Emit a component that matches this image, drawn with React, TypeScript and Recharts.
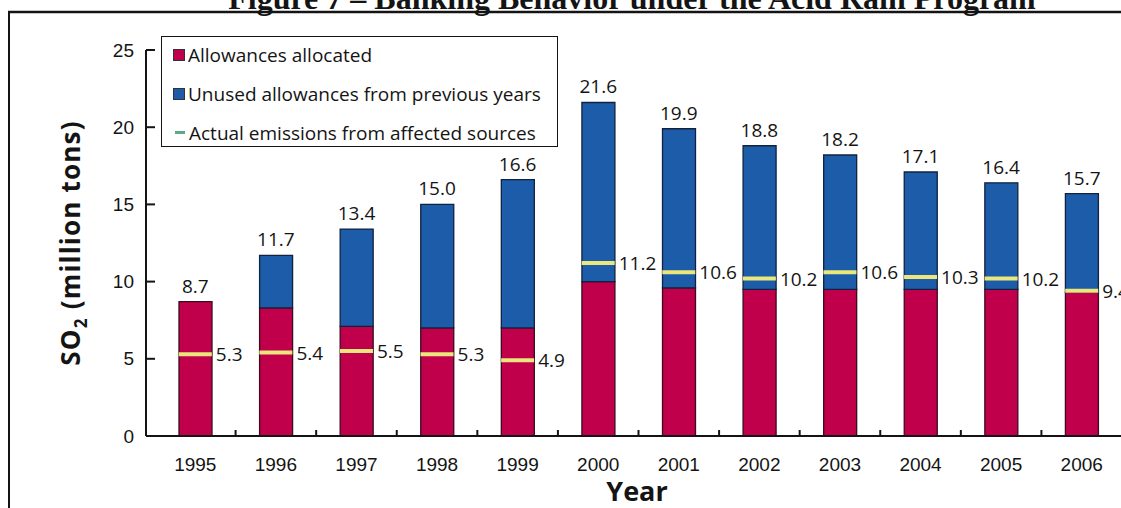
import React from "react";
import { ComposedChart, Bar, Scatter, XAxis, YAxis, Legend } from "recharts";

// SO2 allowance bank, million tons
const years = ["1995", "1996", "1997", "1998", "1999", "2000", "2001", "2002", "2003", "2004", "2005", "2006"];
const totalAllowances = [8.7, 11.7, 13.4, 15.0, 16.6, 21.6, 19.9, 18.8, 18.2, 17.1, 16.4, 15.7];
const allocatedAllowances = [8.7, 8.3, 7.1, 7.0, 7.0, 10.0, 9.6, 9.5, 9.5, 9.5, 9.5, 9.3];
const actualEmissions = [5.3, 5.4, 5.5, 5.3, 4.9, 11.2, 10.6, 10.2, 10.6, 10.3, 10.2, 9.4];
const yTicks = [0, 5, 10, 15, 20, 25];

const RED = "#c0004b";
const BLUE = "#1d5ca8";
const EMISSION = "#ebe77c";
const LEGEND_DASH = "#5daa8b";
const INK = "#141414";

const CHART_W = 1200;
const CHART_H = 508;
const Y_AXIS_W = 146;
const RIGHT_MARGIN = 78;
const X_PAD_LEFT = 9;
const BAR_W = 33;
const BAND = (CHART_W - Y_AXIS_W - RIGHT_MARGIN - X_PAD_LEFT) / years.length;

const valueFont = "'Open Sans', 'Noto Sans', sans-serif";
const tickFont = "'Liberation Sans', Arial, sans-serif";

const data = years.map((year, i) => ({
  year,
  allocated: allocatedAllowances[i],
  unused: +(totalAllowances[i] - allocatedAllowances[i]).toFixed(1),
  total: totalAllowances[i],
  emissions: actualEmissions[i],
}));

const legendItems = [
  { label: "Allowances allocated", color: RED, kind: "square" },
  { label: "Unused allowances from previous years", color: BLUE, kind: "square" },
  { label: "Actual emissions from affected sources", color: LEGEND_DASH, kind: "dash" },
];

const YTick = (props: any) => {
  const { x, y, payload } = props;
  const axisX = x + 12;
  return (
    <g>
      <line x1={axisX} x2={axisX + 9} y1={y} y2={y} stroke={INK} strokeWidth={2} />
      <text x={x} y={y} textAnchor="end" dominantBaseline="central" fontFamily={tickFont} fontSize={19} fill={INK}>
        {payload.value}
      </text>
    </g>
  );
};

const XTick = (props: any) => {
  const { x, y, payload } = props;
  const edge = x + BAND / 2;
  return (
    <g>
      <line x1={edge} x2={edge} y1={y} y2={y - 6} stroke={INK} strokeWidth={2} />
      <text x={x} y={y + 35} textAnchor="middle" fontFamily={tickFont} fontSize={19} fill={INK}>
        {payload.value}
      </text>
    </g>
  );
};

// yellow bar across the column at the emissions level, value to the right
const EmissionMark = (props: any) => {
  const { cx, cy, payload } = props;
  return (
    <g>
      <line x1={cx - BAR_W / 2} x2={cx + BAR_W / 2} y1={cy} y2={cy} stroke={EMISSION} strokeWidth={4} />
      <text x={cx + BAR_W / 2 + 4} y={cy} dominantBaseline="central" fontFamily={valueFont} fontSize={19} fill={INK}>
        {payload.emissions.toFixed(1)}
      </text>
    </g>
  );
};

const TotalLabel = (props: any) => {
  const { cx, cy, payload } = props;
  return (
    <text x={cx} y={cy - 9} textAnchor="middle" fontFamily={valueFont} fontSize={19} fill={INK}>
      {payload.total.toFixed(1)}
    </text>
  );
};

const YTitle = (props: any) => {
  const { viewBox } = props;
  const cy = viewBox.y + viewBox.height / 2;
  return (
    <text
      transform={`translate(80, ${cy}) rotate(-90)`}
      textAnchor="middle"
      fontFamily={valueFont}
      fontWeight={700}
      fontSize={26}
      letterSpacing={1.2}
      fill={INK}
    >
      SO<tspan dy={7} fontSize={17}>2</tspan>
      <tspan dy={-7}>{"  (million tons)"}</tspan>
    </text>
  );
};

const XTitle = (props: any) => {
  const { viewBox } = props;
  return (
    <text
      x={viewBox.x + viewBox.width / 2 + 3}
      y={viewBox.y + 65}
      textAnchor="middle"
      fontFamily={valueFont}
      fontWeight={700}
      fontSize={27}
      fill={INK}
    >
      Year
    </text>
  );
};

const LegendBox = () => (
  <div
    style={{
      position: "relative",
      width: 397,
      height: 111,
      boxSizing: "border-box",
      border: `1.5px solid ${INK}`,
      background: "#fff",
      fontFamily: valueFont,
      fontSize: 19,
      color: INK,
    }}
  >
    {legendItems.map((item, i) => (
      <div
        key={item.label}
        style={{ position: "absolute", left: 11, top: i * 39 - 2, height: 39, display: "flex", alignItems: "center", whiteSpace: "nowrap" }}
      >
        {item.kind === "dash" ? (
          <span style={{ display: "inline-block", width: 10, height: 3, background: item.color, margin: "0 4px 0 2px" }} />
        ) : (
          <span
            style={{
              display: "inline-block",
              width: 10,
              height: 10,
              background: item.color,
              border: "1px solid #333",
              marginRight: 3,
            }}
          />
        )}
        <span>{item.label}</span>
      </div>
    ))}
  </div>
);

export default function App() {
  return (
    <div style={{ position: "fixed", left: 0, top: 0, width: 1121, height: 508, overflow: "hidden", background: "#fff" }}>
      <div style={{ position: "absolute", left: 0, top: 0 }}>
        <ComposedChart
          width={CHART_W}
          height={CHART_H}
          data={data}
          margin={{ top: 50, right: RIGHT_MARGIN, bottom: 0, left: 0 }}
        >
          <XAxis
            dataKey="year"
            height={72}
            padding={{ left: X_PAD_LEFT, right: 0 }}
            axisLine={{ stroke: INK, strokeWidth: 2 }}
            tickLine={false}
            tickSize={0}
            tickMargin={0}
            tick={<XTick />}
            interval={0}
            label={{ content: <XTitle /> }}
          />
          <YAxis
            width={Y_AXIS_W}
            domain={[0, 25]}
            ticks={yTicks}
            interval={0}
            axisLine={{ stroke: INK, strokeWidth: 2 }}
            tickLine={false}
            tickSize={0}
            tickMargin={12}
            tick={<YTick />}
            label={{ content: <YTitle /> }}
          />
          <Legend
            layout="vertical"
            align="center"
            verticalAlign="middle"
            wrapperStyle={{ left: 161, top: 36, width: "auto", height: "auto" }}
            content={<LegendBox />}
          />
          <Bar
            dataKey="allocated"
            stackId="bank"
            fill={RED}
            stroke="#3a0c1e"
            strokeWidth={1.3}
            barSize={BAR_W}
            isAnimationActive={false}
          />
          <Bar
            dataKey="unused"
            stackId="bank"
            fill={BLUE}
            stroke="#10223e"
            strokeWidth={1.3}
            barSize={BAR_W}
            isAnimationActive={false}
          />
          <Scatter dataKey="emissions" shape={<EmissionMark />} isAnimationActive={false} />
          <Scatter dataKey="total" shape={<TotalLabel />} isAnimationActive={false} />
        </ComposedChart>
      </div>
      <svg width={1121} height={508} style={{ position: "absolute", left: 0, top: 0, pointerEvents: "none" }}>
        <text
          x={632}
          y={9}
          textAnchor="middle"
          fontFamily="'Liberation Serif', 'Times New Roman', serif"
          fontWeight={700}
          fontSize={32}
          fill={INK}
        >
          Figure 7 – Banking Behavior under the Acid Rain Program
        </text>
        <line x1={8} x2={1121} y1={12} y2={12} stroke={INK} strokeWidth={2.5} />
        <line x1={9} x2={9} y1={11} y2={508} stroke={INK} strokeWidth={2} />
      </svg>
    </div>
  );
}
